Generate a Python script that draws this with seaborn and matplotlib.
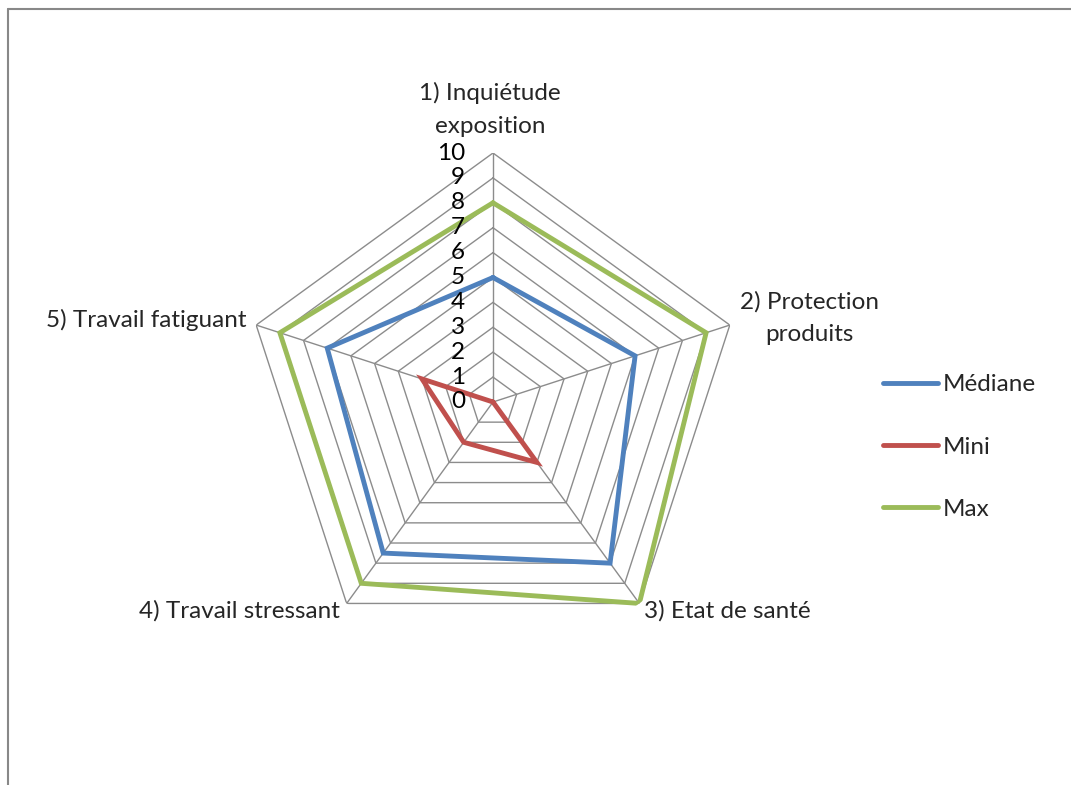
import matplotlib.pyplot as plt
import numpy as np
import pandas as pd
import seaborn as sns
from matplotlib.lines import Line2D

categories = [
    "1) Inquiétude\nexposition",
    "2) Protection\nproduits",
    "3) Etat de santé",
    "4) Travail stressant",
    "5) Travail fatiguant",
]
mediane = [5, 6, 8, 7.5, 7]
mini = [0, 0, 3, 2, 3]
maxi = [8, 9, 10, 9, 9]
series_names = ["Médiane", "Mini", "Max"]
niveaux = list(range(0, 11))

couleurs = {"Médiane": "#4F81BD", "Mini": "#C0504D", "Max": "#9BBB59"}
gris = "#8C8C8C"

sns.set_style("white")
plt.rcParams["font.family"] = ["Lato", "DejaVu Sans"]
fs = 17.5

n = len(categories)
angles = np.linspace(0, 2 * np.pi, n, endpoint=False)
angles_fermes = np.append(angles, angles[0])

# Table longue pour seaborn (polygones fermés)
rows = []
for nom, vals in zip(series_names, [mediane, mini, maxi]):
    vals_fermes = list(vals) + [vals[0]]
    for i, (a, v) in enumerate(zip(angles_fermes, vals_fermes)):
        rows.append({"serie": nom, "ordre": i, "angle": a, "valeur": v})
df = pd.DataFrame(rows)

W, H = 1071, 785
fig = plt.figure(figsize=(W / 100, H / 100), dpi=100)
cx, cy, rpx = 493, 402, 249
ax = fig.add_axes(
    [(cx - rpx) / W, 1 - (cy + rpx) / H, 2 * rpx / W, 2 * rpx / H], projection="polar"
)
ax.set_theta_offset(np.pi / 2)
ax.set_theta_direction(-1)
ax.set_ylim(0, 10)
ax.grid(False)
ax.spines["polar"].set_visible(False)
ax.set_xticks([])
ax.set_yticks([])
ax.patch.set_alpha(0)

# Grille pentagonale
for r in niveaux[1:]:
    ax.plot(angles_fermes, [r] * (n + 1), color=gris, lw=1, zorder=1)
for a in angles:
    ax.plot([a, a], [0, 10], color=gris, lw=1, zorder=1)

sns.lineplot(
    data=df,
    x="angle",
    y="valeur",
    hue="serie",
    units="serie",
    estimator=None,
    sort=False,
    palette=couleurs,
    lw=3.5,
    ax=ax,
    legend=False,
    zorder=3,
)
for line in ax.lines[-3:]:
    line.set_solid_joinstyle("miter")
ax.set_xlabel("")
ax.set_ylabel("")

# Étiquettes de l'échelle
for r in niveaux:
    ax.annotate(
        str(r),
        xy=(0, r),
        xytext=(-20, 0),
        textcoords="offset points",
        ha="right",
        va="center",
        fontsize=fs,
        color="black",
    )

# Étiquettes des catégories
decalages = [
    ((-2, 11.5), "center", "bottom"),
    ((7, 5), "left", "center"),
    ((3, -5), "left", "center"),
    ((-5, -5), "right", "center"),
    ((-7, 4), "right", "center"),
]
for a, lab, (off, ha, va) in zip(angles, categories, decalages):
    ax.annotate(
        lab,
        xy=(a, 10),
        xytext=off,
        textcoords="offset points",
        ha=ha,
        va=va,
        multialignment="center",
        fontsize=fs,
        linespacing=1.68,
    )

handles = [Line2D([0], [0], color=couleurs[s], lw=3.5, solid_capstyle="round") for s in series_names]
fig.legend(
    handles,
    series_names,
    loc="center left",
    bbox_to_anchor=(883 / W, 1 - 447 / H),
    frameon=False,
    fontsize=fs,
    handlelength=2.26,
    handletextpad=0.18,
    labelspacing=1.7,
    borderpad=0,
    borderaxespad=0,
)

# Cadre du graphique (coupé à droite et en bas)
fig.add_artist(Line2D([8 / W, 1], [1 - 9 / H] * 2, color="#888888", lw=1.5, transform=fig.transFigure))
fig.add_artist(Line2D([8 / W] * 2, [1 - 9 / H, 0], color="#888888", lw=1.5, transform=fig.transFigure))

fig.savefig("out.png", dpi=100)
